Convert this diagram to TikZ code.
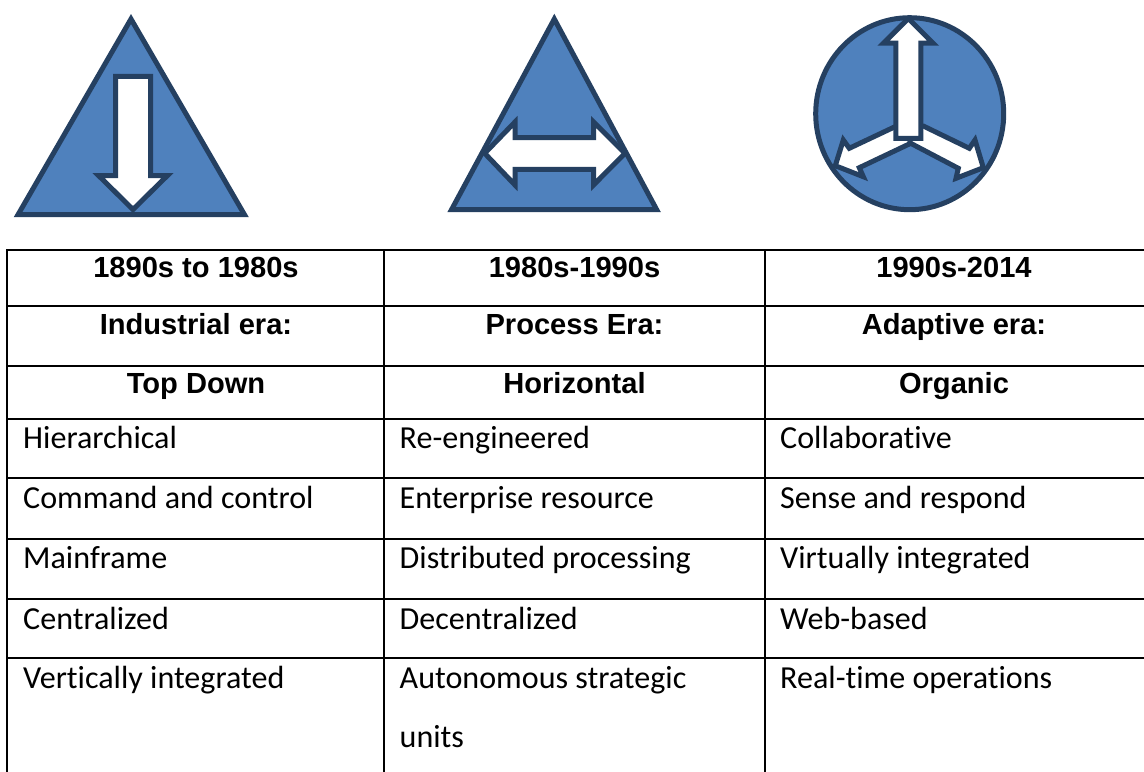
\documentclass[tikz,border=0pt]{standalone}
\usepackage{fontspec}
\setmainfont{Carlito}[Ligatures=NoCommon]
\newfontfamily\headfont{Liberation Sans}
\definecolor{fillblue}{HTML}{4F81BD}
\definecolor{strokeblue}{HTML}{254061}
\begin{document}
\begin{tikzpicture}[x=1bp,y=-1bp,
  shapeblue/.style={draw=strokeblue,fill=fillblue,line width=5bp,miter limit=10},
  arrowwhite/.style={draw=strokeblue,fill=white,line width=5bp,miter limit=10},
  gridline/.style={draw=black,line width=2bp},
  headcell/.style={font=\headfont\bfseries\fontsize{29.2}{32}\selectfont,text=black,anchor=base,inner sep=0pt},
  bodycell/.style={font=\fontsize{32.2}{36}\selectfont,text=black,anchor=base west,inner sep=0pt}]
\useasboundingbox (0,0) rectangle (1144,772);
% triangle 1
\draw[shapeblue] (131,19) -- (244.5,214.7) -- (18,214.7) -- cycle;
\draw[arrowwhite] (115.5,76.5) -- (150.5,76.5) -- (150.5,175.5) -- (167.5,175.5) -- (133,209.5) -- (98.5,175.5) -- (115.5,175.5) -- cycle;
% triangle 2
\draw[shapeblue] (554.3,19) -- (656.7,209.7) -- (451.5,209.7) -- cycle;
\draw[arrowwhite] (484.7,153.3) -- (515,122) -- (515,137.5) -- (593.5,137.5) -- (593.5,122) -- (625,153.3) -- (593.5,185) -- (593.5,169.3) -- (515,169.3) -- (515,185) -- cycle;
% circle
\draw[shapeblue] (909.7,113.7) ellipse[x radius=94,y radius=96];
\draw[arrowwhite] (910.7,143.3) -- (859.3,167.7) -- (863.3,176.7) -- (835.3,165.7) -- (843.3,140) -- (849.3,148.3) -- (895,126.7) -- (915,126.7) -- cycle;
\draw[arrowwhite] (923.3,126) -- (969.3,148.3) -- (975,140) -- (983.3,167.7) -- (956,178.3) -- (958.3,168.3) -- (910.7,143.3) -- (905,126) -- cycle;
\draw[arrowwhite] (895.8,138.3) -- (895.8,43.2) -- (883.5,43.2) -- (908.3,18.5) -- (933,43.2) -- (920.8,43.2) -- (920.8,138.3) -- cycle;
% table
\foreach \yy in {250,306.3,365.7,418.7,477.7,539,598.8,658.2} \draw[gridline] (6.3,\yy) -- (1144,\yy);
\foreach \xx in {7.3,384,765} \draw[gridline] (\xx,249) -- (\xx,772);
% head
\node[headcell] (h1) at (196,277.7) {1890s to 1980s};
\node[headcell] (h2) at (574.5,277.7) {1980s-1990s};
\node[headcell] (h3) at (954,277.7) {1990s-2014};
\node[headcell] (e1) at (196,334) {Industrial era:};
\node[headcell] (e2) at (574.5,334) {Process Era:};
\node[headcell] (e3) at (954,334) {Adaptive era:};
\node[headcell] (t1) at (196,393.3) {Top Down};
\node[headcell] (t2) at (574.5,393.3) {Horizontal};
\node[headcell] (t3) at (954,393.3) {Organic};
% body
\node[bodycell] (a1) at (23,448) {Hierarchical};
\node[bodycell] (a2) at (23,508.5) {Command and control};
\node[bodycell] (a3) at (23,568.3) {Mainframe};
\node[bodycell] (a4) at (23,629) {Centralized};
\node[bodycell] (a5) at (23,688.3) {Vertically integrated};
\node[bodycell] (b1) at (399.5,448) {Re-engineered};
\node[bodycell] (b2) at (399.5,508.5) {Enterprise resource};
\node[bodycell] (b3) at (399.5,568.3) {Distributed processing};
\node[bodycell] (b4) at (399.5,629) {Decentralized};
\node[bodycell] (b5) at (399.5,688.3) {Autonomous strategic};
\node[bodycell] (b6) at (399.5,747.3) {units};
\node[bodycell] (c1) at (780,448) {Collaborative};
\node[bodycell] (c2) at (780,508.5) {Sense and respond};
\node[bodycell] (c3) at (780,568.3) {Virtually integrated};
\node[bodycell] (c4) at (780,629) {Web-based};
\node[bodycell] (c5) at (780,688.3) {Real-time operations};
\end{tikzpicture}
\end{document}
